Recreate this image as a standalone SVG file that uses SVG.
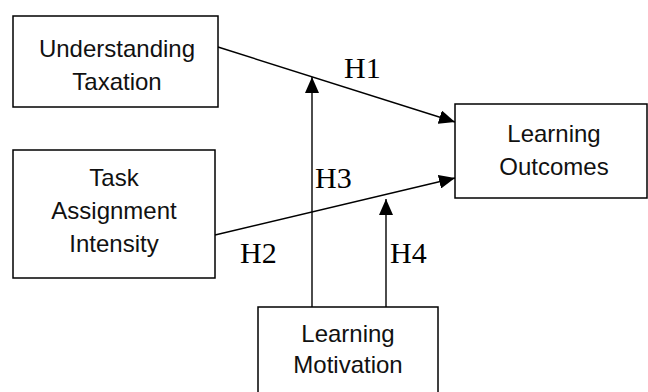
<svg xmlns="http://www.w3.org/2000/svg" width="648" height="392" viewBox="0 0 648 392">
<style>
.box{fill:#fff;stroke:#000;stroke-width:1.5}
.lbl{font-family:"Liberation Sans",Arial,sans-serif;font-size:24px;fill:#111;text-anchor:middle}
.h{font-family:"Liberation Serif","Times New Roman",serif;font-size:30px;fill:#000}
.conn{stroke:#000;stroke-width:1.4;fill:none;marker-end:url(#arr)}
</style>
<defs>
<marker id="arr" markerUnits="userSpaceOnUse" markerWidth="16" markerHeight="14" refX="16" refY="7" orient="auto" viewBox="0 0 16 14">
<path d="M0,0 L16,7 L0,14 z" fill="#000"/>
</marker>
</defs>
<rect width="648" height="392" fill="#fff"/>
<g id="connectors">
<line class="conn" x1="218" y1="47" x2="455" y2="122"/>
<line class="conn" x1="215" y1="235" x2="455" y2="178"/>
<line class="conn" x1="312" y1="307" x2="312" y2="77"/>
<line class="conn" x1="386" y1="307" x2="386" y2="199"/>
</g>
<g id="understanding-taxation">
<rect class="box" x="13" y="16" width="205" height="91"/>
<text class="lbl" x="117" y="57">Understanding</text>
<text class="lbl" x="117" y="90">Taxation</text>
</g>
<g id="task-assignment-intensity">
<rect class="box" x="13" y="150" width="202" height="128"/>
<text class="lbl" x="114" y="186">Task</text>
<text class="lbl" x="114" y="219">Assignment</text>
<text class="lbl" x="114" y="252">Intensity</text>
</g>
<g id="learning-outcomes">
<rect class="box" x="455" y="104" width="192" height="94"/>
<text class="lbl" x="554" y="142">Learning</text>
<text class="lbl" x="554" y="175">Outcomes</text>
</g>
<g id="learning-motivation">
<rect class="box" x="258" y="307" width="180" height="95"/>
<text class="lbl" x="348" y="342">Learning</text>
<text class="lbl" x="348" y="373">Motivation</text>
</g>
<g id="labels">
<text class="h" x="344" y="78">H1</text>
<text class="h" x="240" y="263">H2</text>
<text class="h" x="315" y="188">H3</text>
<text class="h" x="390" y="263">H4</text>
</g>
</svg>
